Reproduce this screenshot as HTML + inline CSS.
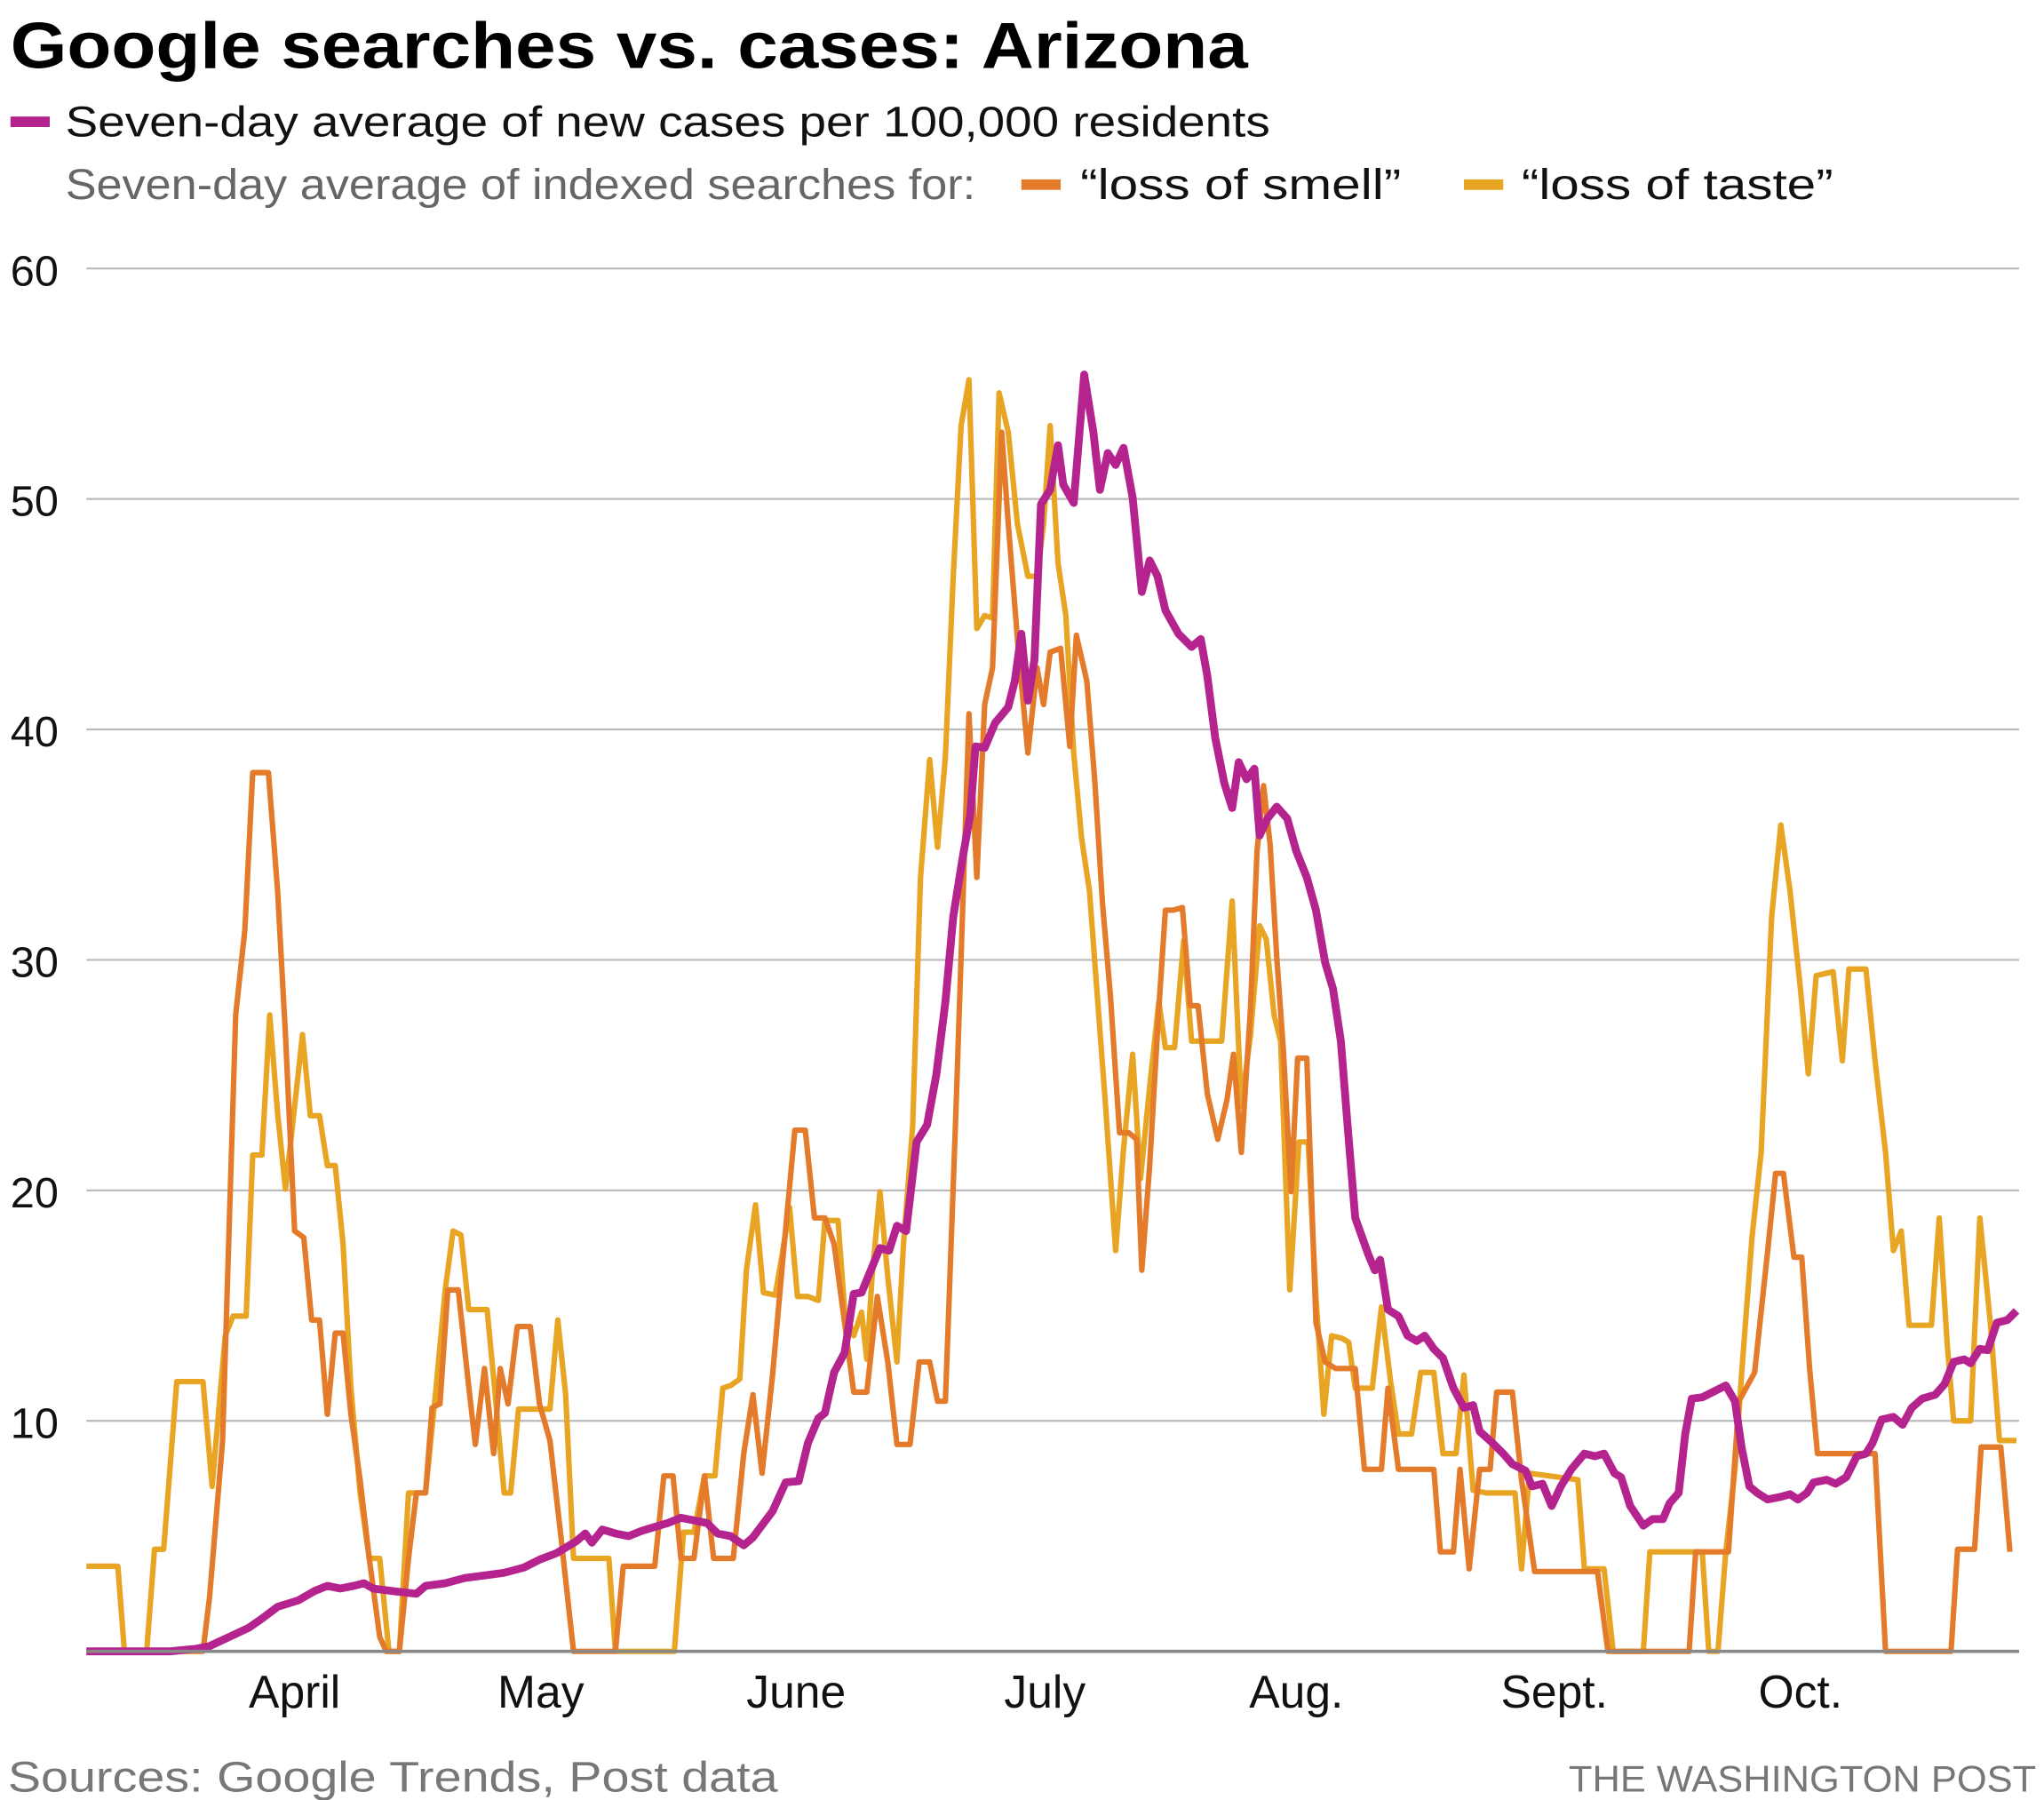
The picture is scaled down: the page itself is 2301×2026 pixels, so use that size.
<!DOCTYPE html>
<html><head><meta charset="utf-8"><style>
html,body{margin:0;padding:0;background:#fff;}
svg{display:block;font-family:"Liberation Sans",sans-serif;}
</style></head><body>
<svg width="2301" height="2026" viewBox="0 0 1561 1374.5" preserveAspectRatio="none">
<text x="8" y="52" font-size="50" font-weight="bold" textLength="945" lengthAdjust="spacingAndGlyphs">Google searches vs. cases: Arizona</text>
<rect x="8" y="89" width="30" height="8" fill="#b5238e"/>
<text x="50" y="104" font-size="33" fill="#111" textLength="920" lengthAdjust="spacingAndGlyphs">Seven-day average of new cases per 100,000 residents</text>
<text x="50" y="152" font-size="33" fill="#666" textLength="695" lengthAdjust="spacingAndGlyphs">Seven-day average of indexed searches for:</text>
<rect x="780" y="137" width="30" height="8" fill="#e47b2a"/>
<text x="825" y="152" font-size="33" fill="#111" textLength="245" lengthAdjust="spacingAndGlyphs">“loss of smell”</text>
<rect x="1118" y="137" width="30" height="8" fill="#e8a523"/>
<text x="1162" y="152" font-size="33" fill="#111" textLength="238" lengthAdjust="spacingAndGlyphs">“loss of taste”</text>
<g stroke="#bbb" stroke-width="1.5">
<line x1="66" x2="1542" y1="205" y2="205"/><line x1="66" x2="1542" y1="381" y2="381"/>
<line x1="66" x2="1542" y1="557" y2="557"/><line x1="66" x2="1542" y1="733" y2="733"/>
<line x1="66" x2="1542" y1="909" y2="909"/><line x1="66" x2="1542" y1="1085" y2="1085"/>
</g>
<g font-size="33" fill="#111">
<text x="8" y="218">60</text><text x="8" y="394">50</text><text x="8" y="570">40</text>
<text x="8" y="746">30</text><text x="8" y="922">20</text><text x="8" y="1098">10</text>
</g>
<g font-size="35" fill="#111" text-anchor="middle">
<text x="225" y="1304">April</text><text x="413" y="1304">May</text><text x="608" y="1304">June</text>
<text x="798" y="1304">July</text><text x="990" y="1304">Aug.</text><text x="1187" y="1304">Sept.</text><text x="1375" y="1304">Oct.</text>
</g>
<g fill="none" stroke-width="4.2" stroke-linejoin="round">
<polyline stroke="#e8a523" points="66,1196 90,1196 95,1261 112,1261 118,1183 125,1183 135,1055 155,1055 162,1135 172,1020 178,1005 188,1005 193,882 200,882 206,775 212,850 218,908 225,845 231,790 237,852 244,852 250,890 256,890 262,950 268,1060 275,1140 282,1190 290,1190 297,1261 305,1261 312,1140 325,1140 333,1060 340,985 346,940 352,943 358,1000 372,1000 378,1063 385,1140 390,1140 396,1076 420,1076 426,1008 432,1065 438,1190 465,1190 470,1261 515,1261 522,1170 530,1170 538,1127 546,1127 552,1060 558,1058 565,1053 570,970 577,920 583,987 592,989 597,960 603,922 609,990 617,990 625,993 630,932 640,932 645,1000 652,1020 658,1002 662,1038 666,975 672,910 678,975 685,1040 690,950 697,860 703,670 710,580 716,647 722,578 728,440 734,325 740,290 746,480 752,470 758,472 763,300 770,330 777,400 785,440 792,440 797,400 802,325 808,430 814,470 820,575 826,640 832,680 838,760 844,840 852,955 858,878 865,805 871,900 878,830 885,765 890,800 897,800 904,718 910,795 933,795 941,688 948,845 955,790 962,707 967,717 973,775 978,795 985,985 992,872 999,872 1005,990 1011,1080 1017,1020 1025,1022 1030,1025 1035,1060 1048,1060 1055,998 1062,1055 1068,1095 1078,1095 1085,1048 1095,1048 1102,1110 1112,1110 1118,1050 1125,1138 1135,1140 1157,1140 1162,1198 1168,1125 1205,1130 1210,1198 1225,1198 1232,1261 1255,1261 1260,1185 1300,1185 1305,1261 1312,1261 1318,1185 1325,1122 1330,1050 1338,945 1345,880 1353,700 1360,630 1367,680 1375,755 1381,820 1387,745 1400,742 1407,810 1412,740 1425,740 1432,810 1440,880 1446,955 1452,940 1458,1012 1475,1012 1481,930 1487,1025 1492,1085 1505,1085 1512,930 1520,1010 1527,1100 1540,1100"/>
<polyline stroke="#e47b2a" points="66,1261 155,1261 160,1220 170,1100 180,775 187,710 193,590 205,590 212,680 218,790 225,940 232,945 238,1008 244,1008 250,1080 256,1018 262,1018 268,1080 275,1130 282,1190 290,1250 295,1261 305,1261 312,1190 318,1140 325,1140 330,1075 336,1072 342,985 350,985 357,1050 363,1103 370,1045 377,1110 382,1045 388,1072 395,1013 405,1013 412,1072 420,1100 428,1170 438,1261 470,1261 476,1196 500,1196 507,1127 514,1127 520,1190 530,1190 538,1127 545,1190 560,1190 568,1110 575,1065 582,1125 590,1050 598,960 607,863 615,863 622,930 630,930 637,950 645,1010 652,1063 662,1063 670,990 678,1040 685,1103 695,1103 702,1040 710,1040 716,1070 722,1070 730,850 735,700 740,545 746,670 752,538 758,510 765,330 770,400 778,500 785,575 792,510 797,538 802,498 810,495 817,570 822,485 830,520 836,595 842,690 848,760 855,865 862,865 868,870 872,970 878,890 885,770 890,695 896,695 903,693 909,768 915,768 922,835 930,870 937,840 942,805 948,880 955,770 960,650 965,600 970,645 975,730 980,800 986,910 991,808 998,808 1005,1010 1012,1040 1020,1045 1035,1045 1042,1122 1055,1122 1060,1060 1068,1122 1095,1122 1100,1185 1110,1185 1115,1122 1122,1198 1130,1122 1138,1122 1143,1063 1155,1063 1162,1130 1172,1200 1220,1200 1228,1261 1290,1261 1295,1185 1320,1185 1328,1070 1340,1048 1350,955 1356,896 1362,896 1370,960 1376,960 1382,1045 1388,1110 1432,1110 1440,1261 1490,1261 1495,1183 1508,1183 1513,1105 1528,1105 1535,1185"/>
<polyline stroke="#b5238e" stroke-width="6" points="66,1261 130,1261 150,1259 160,1257 175,1250 190,1243 200,1236 212,1227 228,1222 240,1215 250,1211 260,1213 270,1211 278,1209 285,1213 300,1215 318,1217 325,1211 340,1209 355,1205 370,1203 385,1201 400,1197 412,1191 425,1186 440,1177 447,1171 452,1178 460,1168 470,1171 480,1173 490,1169 500,1166 510,1163 520,1159 530,1161 540,1163 548,1171 558,1173 568,1180 575,1174 590,1154 600,1132 610,1131 617,1102 625,1083 630,1079 637,1048 645,1033 652,988 658,987 665,970 672,953 679,955 685,936 692,940 700,872 708,859 715,821 722,765 728,700 735,656 741,622 745,570 752,571 760,552 770,540 775,520 780,484 785,535 790,504 795,385 802,374 808,340 812,370 820,384 828,286 835,330 840,374 846,346 852,355 858,342 865,380 872,452 878,428 884,440 890,466 900,484 910,494 917,488 922,516 928,563 935,598 941,617 946,582 952,595 958,587 962,638 968,625 975,616 983,625 990,650 998,670 1005,695 1012,735 1018,755 1024,795 1030,870 1035,930 1045,958 1050,970 1054,962 1060,1000 1068,1005 1075,1020 1082,1024 1088,1020 1095,1030 1102,1037 1110,1060 1118,1075 1125,1073 1130,1093 1140,1102 1148,1110 1155,1118 1165,1123 1170,1135 1178,1133 1185,1150 1192,1135 1200,1122 1210,1110 1218,1112 1225,1110 1233,1125 1238,1128 1245,1150 1255,1165 1262,1160 1270,1160 1275,1148 1282,1140 1287,1095 1292,1068 1300,1067 1310,1062 1318,1058 1325,1070 1330,1105 1336,1135 1342,1140 1350,1145 1360,1143 1367,1141 1373,1145 1380,1140 1385,1132 1395,1130 1402,1133 1410,1128 1418,1112 1425,1110 1430,1102 1437,1084 1446,1082 1453,1088 1460,1075 1468,1068 1478,1065 1485,1057 1492,1040 1500,1038 1505,1041 1512,1030 1518,1031 1525,1010 1533,1008 1540,1001"/>
</g>
<line x1="66" x2="1542" y1="1261" y2="1261" stroke="#888" stroke-width="2.5"/>
<text x="6" y="1368" font-size="33" fill="#777" textLength="588" lengthAdjust="spacingAndGlyphs">Sources: Google Trends, Post data</text>
<text x="1555" y="1368" font-size="28" fill="#777" text-anchor="end" textLength="357" lengthAdjust="spacingAndGlyphs">THE WASHINGTON POST</text>
</svg>
</body></html>
